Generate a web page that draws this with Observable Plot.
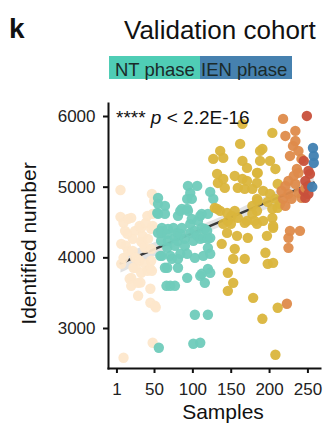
<!DOCTYPE html>
<html><head><meta charset="utf-8">
<script src="https://cdn.jsdelivr.net/npm/d3@7"></script>
<script src="https://cdn.jsdelivr.net/npm/@observablehq/plot@0.6"></script>
<style>
body{margin:0;background:#fff;}
#wrap{position:relative;width:323px;height:425px;font-family:"Liberation Sans",Arial,sans-serif;color:#111;overflow:hidden}
.abs{position:absolute;white-space:nowrap}
</style></head><body>
<div id="wrap">
  <div class="abs" style="left:9px;top:15px;font-size:28px;line-height:28px;font-weight:bold">k</div>
  <div class="abs" style="left:124px;top:17px;font-size:26px;line-height:26px">Validation cohort</div>
  <div class="abs" style="left:109px;top:56px;width:85px;height:23px;padding-left:6px;background:#4FCDB5;font-size:18.5px;line-height:27px;color:#1a2a2a">NT phase</div>
  <div class="abs" style="left:200px;top:56px;width:91px;height:23px;padding-left:1px;background:#4681AF;font-size:18.5px;line-height:27px;color:#1a2a2a">IEN phase</div>
  <div id="chart" class="abs" style="left:0;top:90px"></div>
  <div class="abs" style="left:116px;top:108px;font-size:19px;line-height:19px;color:#111">**** <i>p</i> &lt; 2.2E-16</div>
  <div class="abs" style="left:-72px;top:233px;width:200px;text-align:center;font-size:21px;line-height:21px;transform:rotate(-90deg)">Identified number</div>
  <div class="abs" style="left:123px;top:401px;width:200px;text-align:center;font-size:21px;line-height:21px">Samples</div>
</div>
<script>
const phaseNames = ["Early", "NT", "Middle", "Late", "Pre-IEN", "IEN"];
const phaseColors = ["#FDE7CB", "#6FCBBA", "#DAB53C", "#DE8B4B", "#C8503B", "#3F7FB1"];
const xTicks = [1, 50, 100, 150, 200, 250];
const yTicks = [3000, 4000, 5000, 6000];

// [sample, identified number]
const early = [[3,4960],[44,4905],[47,4806],[3,4580],[13,4551],[17,4565],[7,4495],[30,4424],[38,4594],[45,4622],[36,4495],[43,4410],[28,4452],[45,4452],[12,4339],[19,4269],[4,4198],[10,4170],[32,4212],[30,4230],[35,4141],[43,4127],[4,3915],[7,4000],[22,4000],[24,3995],[28,3958],[35,3915],[43,3958],[20,3859],[23,3860],[30,3788],[38,3816],[42,3844],[44,3816],[15,3703],[17,3717],[26,3646],[29,3650],[17,3604],[26,3463],[42,3562],[42,3364],[48,3321],[49,3300],[45,2798],[7,2586],[22,4382],[32,4311],[39,4269],[13,4099],[19,4099],[9,4382]];
const nt = [[91,5018],[103,5018],[94,4919],[120,4933],[90,4834],[96,4834],[52,4848],[52,4764],[61,4735],[83,4693],[90,4693],[81,4665],[91,4665],[51,4636],[52,4622],[61,4622],[78,4594],[96,4551],[109,4622],[117,4622],[104,4523],[107,4594],[94,4481],[57,4424],[65,4410],[72,4424],[83,4424],[109,4424],[113,4410],[116,4382],[56,4382],[52,4353],[57,4353],[64,4339],[77,4353],[81,4339],[74,4283],[103,4311],[111,4283],[87,4269],[78,4240],[65,4240],[56,4240],[98,4240],[117,4269],[107,4269],[74,4170],[87,4170],[117,4141],[64,4141],[57,4028],[68,4028],[81,4057],[90,4057],[100,4000],[111,4028],[120,4057],[70,3986],[78,3986],[55,4028],[61,3859],[78,3859],[64,3859],[109,3774],[117,3844],[120,3788],[90,3717],[107,3745],[68,3604],[74,3604],[63,3604],[113,3646],[100,3194],[117,3194],[98,2784],[107,2798],[53,2727],[124,4834],[120,4283],[100,4382],[94,4353]];
const middle = [[162,5895],[159,5612],[133,5513],[124,5400],[137,5414],[162,5372],[168,5273],[185,5513],[185,5372],[129,5188],[137,5117],[130,5060],[139,4990],[152,5159],[162,5117],[168,5089],[181,5202],[181,5060],[156,4990],[165,4976],[175,4976],[181,4834],[175,4735],[126,4707],[133,4665],[152,4665],[148,4594],[156,4566],[143,4523],[137,4481],[165,4495],[178,4523],[175,4622],[142,4353],[155,4311],[169,4283],[135,4198],[152,4127],[150,3986],[165,3986],[143,3788],[150,3646],[143,3533],[176,3434],[188,3137],[129,4693],[142,4636],[147,4481],[168,4523],[189,4523],[201,4566],[211,4764],[202,4424],[194,4311],[192,4071],[195,3915],[202,3929],[208,3293],[205,2628],[201,5768],[188,5541],[198,5372],[205,5258],[182,5202],[208,5046],[189,4947],[198,4905],[182,4806],[195,4792],[205,4834],[208,4707],[201,4693],[181,4665],[181,4481],[202,4452]];
const late = [[215,5966],[218,5725],[231,5796],[231,5654],[228,5584],[235,5513],[224,5442],[239,5400],[233,5258],[235,5202],[229,5159],[222,5089],[218,5018],[231,5046],[213,4947],[222,4905],[235,4919],[244,4990],[215,4834],[226,4834],[239,4848],[218,4735],[224,4382],[237,4382],[222,4283],[222,4141],[220,3350]];
const preIen = [[246,6008],[242,5372],[248,5230],[250,5188],[244,5089],[248,5018],[242,4947],[248,4905],[244,4848]];
const ien = [[254,5555],[255,5442],[255,5343],[253,5004]];

const groups = [early, nt, middle, late, preIen, ien];
const data = groups.flatMap((g, i) => g.map(([sample, value]) => ({sample, value, phase: phaseNames[i]})))
  .sort((a, b) => a.sample - b.sample);

const font = '"Liberation Sans", Arial, sans-serif';
const plot = Plot.plot({
  width: 323,
  height: 335,
  marginLeft: 108,
  marginRight: 3,
  marginTop: 13,
  marginBottom: 57,
  style: {fontFamily: font, color: "#111", background: "transparent", overflow: "visible"},
  x: {domain: [-12.6, 263.8]},
  y: {domain: [2434, 6184]},
  color: {domain: phaseNames, range: phaseColors},
  marks: [
    Plot.linearRegressionY(data, {x: "sample", y: "value", stroke: "#3b3b3b", strokeWidth: 2.5, fill: "#d6d6d6", fillOpacity: 0.7}),
    Plot.dot(data, {x: "sample", y: "value", fill: "phase", r: 5.2, fillOpacity: 0.95}),
    Plot.frame({anchor: "left", stroke: "#111", strokeWidth: 2}),
    Plot.frame({anchor: "bottom", stroke: "#111", strokeWidth: 2}),
    Plot.axisX({ticks: xTicks, tickFormat: "d", tickSize: 5, tickPadding: 9, fontSize: 17, dx: -2, label: null, strokeWidth: 2, stroke: "#111", fill: "#222"}),
    Plot.axisY({ticks: yTicks, tickFormat: "d", tickSize: 5, tickPadding: 8, fontSize: 17, label: null, strokeWidth: 2, stroke: "#111", fill: "#222"})
  ]
});
document.getElementById("chart").append(plot);
</script>
</body></html>
